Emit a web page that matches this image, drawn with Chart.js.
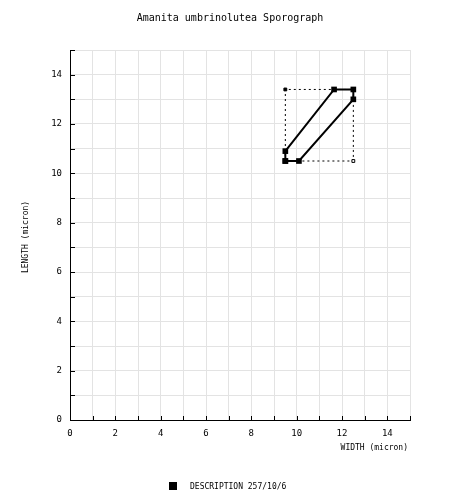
<!DOCTYPE html>
<html>
<head>
<meta charset="utf-8">
<script src="https://cdn.jsdelivr.net/npm/chart.js@4"></script>
<style>
  html, body { margin: 0; padding: 0; background: #fff; }
  #wrap { width: 460px; height: 502px; }
</style>
</head>
<body>
<div id="wrap"><canvas id="chart" width="460" height="502"></canvas></div>
<script>
// ── Data ─────────────────────────────────────────────────
const TITLE = "Amanita umbrinolutea Sporograph";
const SERIES_LABEL = "DESCRIPTION 257/10/6";
const X_TITLE = "WIDTH (micron)";
const Y_TITLE = "LENGTH (micron)";

// sporograph outline (closed)
const shapeX = [9.5, 10.1, 12.5, 12.5, 11.65, 9.5, 9.5];
const shapeY = [10.5, 10.5, 13.0, 13.4, 13.4, 10.9, 10.5];

// dotted bounding box (min/max width x min/max length)
const boxX = [9.5, 9.5, 12.5, 12.5, 9.5];
const boxY = [10.5, 13.4, 13.4, 10.5, 10.5];

const AXIS_MIN = 0;
const AXIS_MAX = 15;

const FONT = "'DejaVu Sans Mono', monospace";

const toPoints = (xs, ys) => xs.map((x, i) => ({ x, y: ys[i] }));

// ── Extra drawing: inward ticks, titles, legend ──────────
const decorPlugin = {
  id: "decor",
  afterDraw(chart) {
    const { ctx, chartArea: a, scales } = chart;
    const xs = scales.x, ys = scales.y;
    ctx.save();
    ctx.strokeStyle = "#000";
    ctx.lineWidth = 1;
    ctx.beginPath();
    for (let v = AXIS_MIN; v <= AXIS_MAX; v++) {
      const px = Math.round(xs.getPixelForValue(v)) + 0.5;
      ctx.moveTo(px, a.bottom);
      ctx.lineTo(px, a.bottom - 4);
      const py = Math.round(ys.getPixelForValue(v)) + 0.5;
      ctx.moveTo(a.left, py);
      ctx.lineTo(a.left + 5, py);
    }
    ctx.stroke();

    ctx.fillStyle = "#000";
    ctx.textBaseline = "middle";

    // title
    ctx.font = "10px " + FONT;
    ctx.textAlign = "center";
    ctx.fillText(TITLE, 230, 18);

    // x axis title
    ctx.font = "8px " + FONT;
    ctx.textAlign = "right";
    ctx.fillText(X_TITLE, 408, 448);

    // y axis title
    ctx.save();
    ctx.translate(26, 237);
    ctx.rotate(-Math.PI / 2);
    ctx.textAlign = "center";
    ctx.fillText(Y_TITLE, 0, 0);
    ctx.restore();

    // legend
    ctx.fillRect(169, 482, 8, 8);
    ctx.textAlign = "left";
    ctx.fillText(SERIES_LABEL, 190, 487);
    ctx.restore();
  },
};

// ── Chart ────────────────────────────────────────────────
const tickLabel = (v) => (v % 2 === 0 ? String(v) : "");

new Chart(document.getElementById("chart"), {
  type: "scatter",
  data: {
    datasets: [
      {
        label: SERIES_LABEL,
        data: toPoints(shapeX, shapeY),
        showLine: true,
        borderColor: "#000",
        backgroundColor: "#000",
        borderWidth: 2,
        pointStyle: "rect",
        pointRadius: 4,
        pointBorderWidth: 0,
        tension: 0,
      },
      {
        label: "box",
        data: toPoints(boxX, boxY),
        showLine: true,
        borderColor: "#000",
        borderWidth: 1,
        borderDash: [2, 3],
        pointStyle: "rect",
        pointRadius: [0, 2, 0, 2, 0],
        pointBackgroundColor: ["#000", "#000", "#000", "#fff", "#000"],
        pointBorderColor: "#000",
        pointBorderWidth: 1,
        tension: 0,
      },
    ],
  },
  options: {
    responsive: false,
    animation: false,
    devicePixelRatio: 1,
    layout: { padding: { left: 0, top: 50, right: 50, bottom: 0 } },
    plugins: {
      legend: { display: false },
      title: { display: false },
      tooltip: { enabled: false },
    },
    scales: {
      x: {
        type: "linear",
        min: AXIS_MIN,
        max: AXIS_MAX,
        afterFit: (s) => { s.height = 82; },
        grid: { color: "#e3e3e3", drawTicks: false },
        border: { display: true, color: "#000", width: 1 },
        ticks: {
          stepSize: 1,
          autoSkip: false,
          maxRotation: 0,
          padding: 8,
          color: "#000",
          font: { family: FONT, size: 9 },
          callback: tickLabel,
        },
      },
      y: {
        type: "linear",
        min: AXIS_MIN,
        max: AXIS_MAX,
        afterFit: (s) => { s.width = 70; },
        grid: { color: "#e3e3e3", drawTicks: false },
        border: { display: true, color: "#000", width: 1 },
        ticks: {
          stepSize: 1,
          autoSkip: false,
          padding: 8,
          color: "#000",
          font: { family: FONT, size: 9 },
          callback: tickLabel,
        },
      },
    },
  },
  plugins: [decorPlugin],
});
</script>
</body>
</html>
